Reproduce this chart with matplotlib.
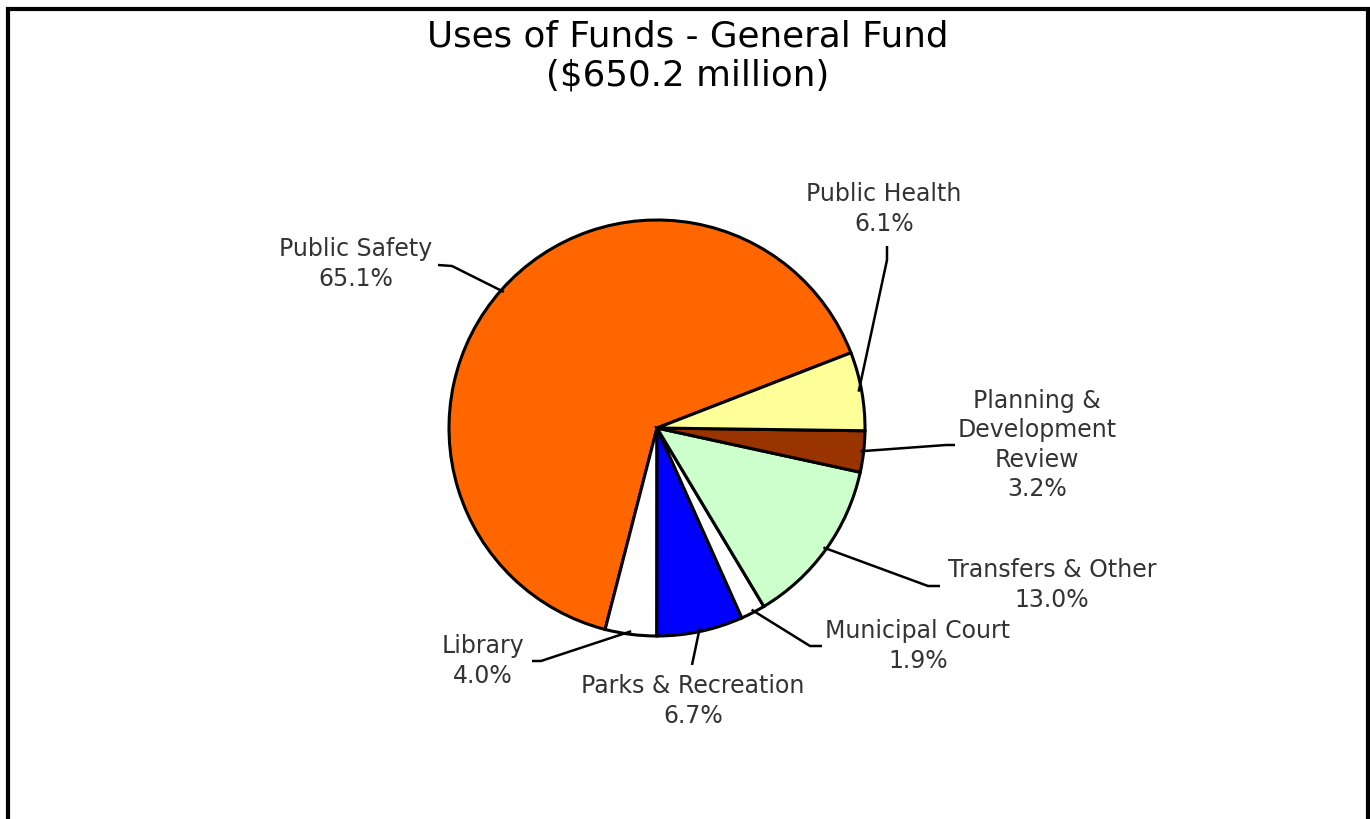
import matplotlib.pyplot as plt
import numpy as np
from matplotlib.patches import Rectangle

# General fund uses, percent of total
categories = ['Public Safety', 'Library', 'Parks & Recreation', 'Municipal Court',
              'Transfers & Other', 'Planning &\nDevelopment\nReview', 'Public Health']
shares = [65.1, 4.0, 6.7, 1.9, 13.0, 3.2, 6.1]
colors = ['#FF6600', '#FFFFFF', '#0000FF', '#FFFFFF', '#CCFFCC', '#993300', '#FFFF99']

title = 'Uses of Funds - General Fund\n($650.2 million)'

# label block centres and leader elbows (pixel space, y down)
label_pos = [(356, 264), (483, 661), (693, 701), (918, 646), (1052, 585), (1037, 445), (884, 209)]
leader_pts = [
    [(438, 265), (452, 266)],
    [(532, 661), (541, 661)],
    [(692, 665)],
    [(822, 646), (810, 646)],
    [(940, 586), (928, 586)],
    [(955, 445), (946, 445)],
    [(887, 246), (887, 260)],
]

W, H = 1370, 819
center = (657, 428)
R = 208

fig = plt.figure(figsize=(W / 100, H / 100), dpi=100)
ax = fig.add_axes([0, 0, 1, 1])
ax.set_aspect('equal')
ax.axis('off')

wedges, _ = ax.pie(shares, colors=colors, startangle=-21.2, counterclock=False,
                   center=center, radius=R,
                   wedgeprops=dict(edgecolor='black', linewidth=2.2))
ax.set_xlim(0, W)
ax.set_ylim(H, 0)

for w, name, val, (lx, ly), pts in zip(wedges, categories, shares, label_pos, leader_pts):
    mid = np.deg2rad((w.theta1 + w.theta2) / 2)
    ax_pt = (center[0] + 0.985 * R * np.cos(mid), center[1] + 0.985 * R * np.sin(mid))
    path = pts + [ax_pt]
    ax.plot([p[0] for p in path], [p[1] for p in path], color='black', lw=1.8,
            solid_capstyle='butt', zorder=5)
    ax.text(lx, ly, f'{name}\n{val:.1f}%', ha='center', va='center', fontsize=17,
            color='#333333', linespacing=1.28)

ax.text(688, 56, title, ha='center', va='center', fontsize=25.7, color='black', linespacing=1.2)

# outer frame, bottom edge runs off the canvas
fig.patches.append(Rectangle((7.5 / W, -0.05), (1367.5 - 7.5) / W, 1.05 - 9 / H,
                             transform=fig.transFigure, fill=False, edgecolor='black',
                             linewidth=3))

fig.savefig('out.png', dpi=100)
